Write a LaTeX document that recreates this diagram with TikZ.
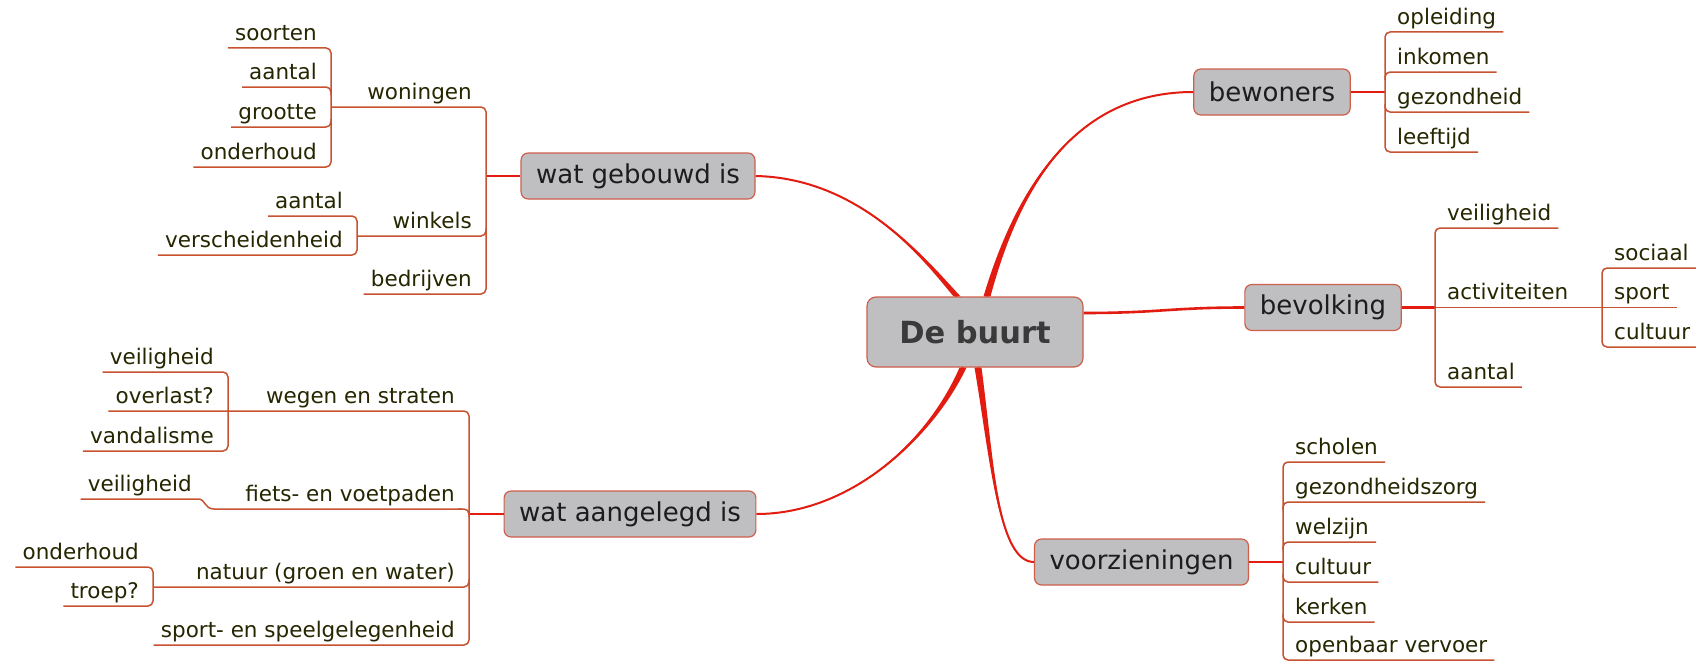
\documentclass[tikz,border=0pt]{standalone}
\usepackage{fontspec}
\setmainfont{DejaVu Sans}
\usetikzlibrary{calc}
\definecolor{branchred}{RGB}{226,28,16}
\definecolor{leafline}{RGB}{200,82,48}
\definecolor{boxfill}{RGB}{191,191,194}
\definecolor{boxdraw}{RGB}{205,95,75}
\definecolor{leaftext}{RGB}{38,38,0}
\definecolor{boxtext}{RGB}{28,28,28}
\definecolor{roottext}{RGB}{58,58,58}
\newcommand\lffont{\fontsize{21.5}{24}\selectfont}
\newcommand\tpfont{\fontsize{26}{30}\selectfont}
\newcommand\rtfont{\fontsize{30.5}{36}\selectfont\bfseries}
\newcommand\branchcurve[5]{%
 \fill[branchred] ($#1+#5$) .. controls ($#2+0.5*#5$) and #3 .. #4 .. controls #3 and ($#2-0.5*#5$) .. ($#1-#5$) -- cycle;
 \draw[branchred,line width=2pt] #1 .. controls #2 and #3 .. #4;}
\tikzset{
 lleaf/.style={anchor=south east, inner xsep=7pt, inner ysep=2.5pt, text height=16pt, text depth=5pt, font=\lffont, text=leaftext},
 rleaf/.style={lleaf, anchor=south west},
 uline/.style={draw=leafline, line width=1.5pt},
 bracket/.style={uline, rounded corners=5pt},
 conn/.style={draw=branchred, line width=2.2pt},
 topic/.style={draw=boxdraw, fill=boxfill, line width=1.2pt, rounded corners=7pt, minimum height=46pt, inner xsep=15pt, font=\tpfont, text=boxtext},
}
\begin{document}
\begin{tikzpicture}[x=1pt,y=-1pt]
\useasboundingbox (0,0) rectangle (1696,661);
\fill[white] (0,0) rectangle (1696,661);

% topics
\node[topic, minimum width=216pt, minimum height=70pt, rounded corners=9pt, font=\rtfont, text=roottext] (C) at (975,332) {De buurt};
\node[topic] (WG) at (638,176) {wat gebouwd is};
\node[topic] (WA) at (630,514) {wat aangelegd is};
\node[topic] (BW) at (1272,92) {bewoners};
\node[topic] (BV) at (1323,307.5) {bevolking};
\node[topic] (VZ) at (1141.5,562) {voorzieningen};

% main branches
\coordinate (cwg) at ($(C.north)+(-18,0)$);
\coordinate (cbw) at ($(C.north)+(12,0)$);
\coordinate (cbv) at ($(C.east)+(0,-19)$);
\coordinate (cwa) at ($(C.south)+(-12,0)$);
\coordinate (cvz) at ($(C.south)+(3,0)$);
\branchcurve{(cwg)}{(925,260)}{(860,178)}{(WG.east)}{(3.5,0)}
\branchcurve{(cbw)}{(1020,180)}{(1080,92)}{(BW.west)}{(3.5,0)}
\branchcurve{(cwa)}{(930,440)}{(850,514)}{(WA.east)}{(3.5,0)}
\branchcurve{(cvz)}{(992,460)}{(998,562)}{(VZ.west)}{(3.5,0)}
\draw[branchred, line width=2.6pt] (cbv) .. controls (1160,313) and (1170,307.5) .. (BV.west);

% ---- wat gebouwd is
\draw[conn] (WG.west) -- (486,176);
\node[lleaf] (woningen) at (479,107) {woningen};
\node[lleaf] (winkels) at (479,236) {winkels};
\node[lleaf] (bedrijven) at (479,294) {bedrijven};
\draw[bracket] (331,107) -| (486,294) -- (bedrijven.south west);
\draw[bracket] (357,236) -| (486,228);
\node[lleaf] (soorten) at (324,48) {soorten};
\node[lleaf] (aantalA) at (324,87) {aantal};
\node[lleaf] (grootte) at (324,127) {grootte};
\node[lleaf] (onderhoudA) at (324,167) {onderhoud};
\draw[bracket] (soorten.south west) -| (331,167) -- (onderhoudA.south west);
\draw[bracket] (aantalA.south west) -| (331,95);
\draw[bracket] (grootte.south west) -| (331,119);
\node[lleaf] (aantalB) at (350,216) {aantal};
\node[lleaf] (versch) at (350,255) {verscheidenheid};
\draw[bracket] (aantalB.south west) -| (357,255) -- (versch.south west);

% ---- wat aangelegd is
\draw[conn] (WA.west) -- (469,514);
\node[lleaf] (wegen) at (462,411) {wegen en straten};
\node[lleaf] (fiets) at (462,509) {fiets- en voetpaden};
\node[lleaf] (natuur) at (462,587) {natuur (groen en water)};
\node[lleaf] (sportspeel) at (462,645) {sport- en speelgelegenheid};
\node[lleaf] (veilA) at (221,372) {veiligheid};
\node[lleaf] (overlast) at (221,411) {overlast?};
\node[lleaf] (vandalisme) at (221,451) {vandalisme};
\draw[bracket] (veilA.south west) -| (228,451) -- (vandalisme.south west);
\draw[bracket] (overlast.south west) -| (469,645) -- (sportspeel.south west);
\node[lleaf] (veilB) at (199,499) {veiligheid};
\draw[uline] (veilB.south west) -- (198,499) .. controls (206,499) and (204,509) .. (214,509) -- (462,509);
\draw[bracket] (458,509) -| (469,517);
\draw[bracket] (153,587) -| (469,579);
\node[lleaf] (onderhoudB) at (146,567) {onderhoud};
\node[lleaf] (troep) at (146,606) {troep?};
\draw[bracket] (onderhoudB.south west) -| (153,606) -- (troep.south west);

% ---- bewoners
\draw[conn] (BW.east) -- (1385,92);
\node[rleaf] (opleiding) at (1390,32) {opleiding};
\node[rleaf] (inkomen) at (1390,72) {inkomen};
\node[rleaf] (gezondheid) at (1390,112) {gezondheid};
\node[rleaf] (leeftijd) at (1390,152) {leeftijd};
\draw[bracket] (opleiding.south east) -| (1385,152) -- (leeftijd.south east);
\draw[bracket] (inkomen.south east) -| (1385,80);
\draw[bracket] (gezondheid.south east) -| (1385,104);

% ---- bevolking
\draw[conn] (BV.east) -- (1435,307.5);
\node[rleaf] (veilC) at (1440,228) {veiligheid};
\node[rleaf] (activ) at (1440,307.5) {activiteiten};
\node[rleaf] (aantalC) at (1440,387) {aantal};
\draw[bracket] (veilC.south east) -| (1435,387) -- (aantalC.south east);
\draw[uline] (1435,307.5) -- (1602,307.5);
\node[rleaf] (sociaal) at (1607,268) {sociaal};
\node[rleaf] (sport) at (1607,307.5) {sport};
\node[rleaf] (cultuurA) at (1607,347) {cultuur};
\draw[bracket] (sociaal.south east) -| (1602,347) -- (cultuurA.south east);
\draw[uline] (1602,307.5) -- (sport.south east);

% ---- voorzieningen
\draw[conn] (VZ.east) -- (1283,562);
\node[rleaf] (scholen) at (1288,462) {scholen};
\node[rleaf] (gzorg) at (1288,502) {gezondheidszorg};
\node[rleaf] (welzijn) at (1288,542) {welzijn};
\node[rleaf] (cultuurB) at (1288,582) {cultuur};
\node[rleaf] (kerken) at (1288,622) {kerken};
\node[rleaf] (ov) at (1288,660) {openbaar vervoer};
\draw[bracket] (scholen.south east) -| (1283,660) -- (ov.south east);
\draw[bracket] (gzorg.south east) -| (1283,510);
\draw[bracket] (welzijn.south east) -| (1283,550);
\draw[bracket] (cultuurB.south east) -| (1283,574);
\draw[bracket] (kerken.south east) -| (1283,614);
\end{tikzpicture}
\end{document}
